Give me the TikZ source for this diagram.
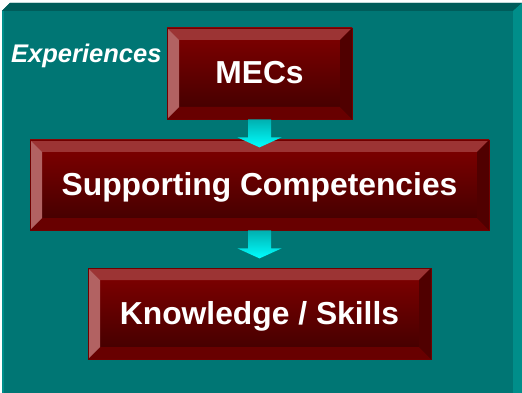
\documentclass[tikz,border=0pt]{standalone}
\usepackage{fontspec}
\setmainfont{Liberation Sans}
\usetikzlibrary{calc}

\definecolor{panel}{RGB}{0,118,116}
\definecolor{paneltop}{RGB}{0,92,90}
\definecolor{panelside}{RGB}{0,142,138}
\definecolor{boxtop}{RGB}{130,0,0}
\definecolor{boxbottom}{RGB}{62,0,0}
\definecolor{bevelup}{RGB}{156,52,52}
\definecolor{bevelleft}{RGB}{178,98,98}
\definecolor{bevelright}{RGB}{80,0,0}
\definecolor{beveldown}{RGB}{104,0,0}
\definecolor{boxline}{RGB}{112,0,0}
\definecolor{arrowtop}{RGB}{0,176,176}
\definecolor{arrowbottom}{RGB}{0,255,255}

\tikzset{
    bevelbox/.style={
        draw=boxline, line width=0.8pt, top color=boxtop, bottom color=boxbottom,
        inner sep=0pt, text height=21pt, text depth=0pt,
        text=white, font=\fontsize{31.8}{36}\selectfont\bfseries,
        path picture={
            % top, bottom, left and right bevels
            \fill [bevelup] (path picture bounding box.north west) -- (path picture bounding box.north east)
                -- ++(-12pt,-12pt) -- ($(path picture bounding box.north west)+(12pt,-12pt)$) -- cycle;
            \fill [beveldown] (path picture bounding box.south west) -- (path picture bounding box.south east)
                -- ++(-12pt,12pt) -- ($(path picture bounding box.south west)+(12pt,12pt)$) -- cycle;
            \fill [bevelleft] (path picture bounding box.north west) -- ++(12pt,-12pt)
                -- ($(path picture bounding box.south west)+(12pt,12pt)$) -- (path picture bounding box.south west) -- cycle;
            \fill [bevelright] (path picture bounding box.north east) -- ++(-12pt,-12pt)
                -- ($(path picture bounding box.south east)+(-12pt,12pt)$) -- (path picture bounding box.south east) -- cycle;
        }
    }
}

\begin{document}
\begin{tikzpicture}[x=1pt, y=-1pt]

    % Page
    \useasboundingbox (0, 0) rectangle (522, 393);
    \fill [white] (0, 0) rectangle (522, 393);

    % Panel
    \fill [panel] (2, 393) -- (2, 11) -- (10, 3) -- (522, 3) -- (522, 393) -- cycle;
    \fill [paneltop] (2, 11) -- (10, 3) -- (522, 3) -- (513, 11) -- cycle;
    \fill [panelside] (513, 11) -- (522, 3) -- (522, 393) -- (513, 393) -- cycle;
    \fill [panelside] (2, 11) rectangle (4, 393);

    % Boxes
    \node [bevelbox, minimum width=185pt, minimum height=91pt] (mecs) at (259.5, 73.5) {MECs};
    \node [bevelbox, minimum width=459pt, minimum height=90pt] (supp) at (259.5, 185) {Supporting Competencies};
    \node [bevelbox, minimum width=343pt, minimum height=91pt] (know) at (259.5, 313.5) {Knowledge / Skills};

    % Label
    \node [anchor=base west, inner sep=0pt, text=white, font=\fontsize{25.5}{30}\selectfont\bfseries\itshape] (exp) at (11, 63) {Experiences};

    % Arrows
    \foreach \src in {mecs, supp} {
            \shade [top color=arrowtop, bottom color=arrowbottom]
                ($(\src.south)+(-11.5, 0)$) -- ++(0, 18) -- ++(-10.5, 0)
                -- ($(\src.south)+(0, 28)$)
                -- ($(\src.south)+(22, 18)$) -- ++(-10.5, 0) -- ($(\src.south)+(11.5, 0)$) -- cycle;
        }

\end{tikzpicture}
\end{document}
